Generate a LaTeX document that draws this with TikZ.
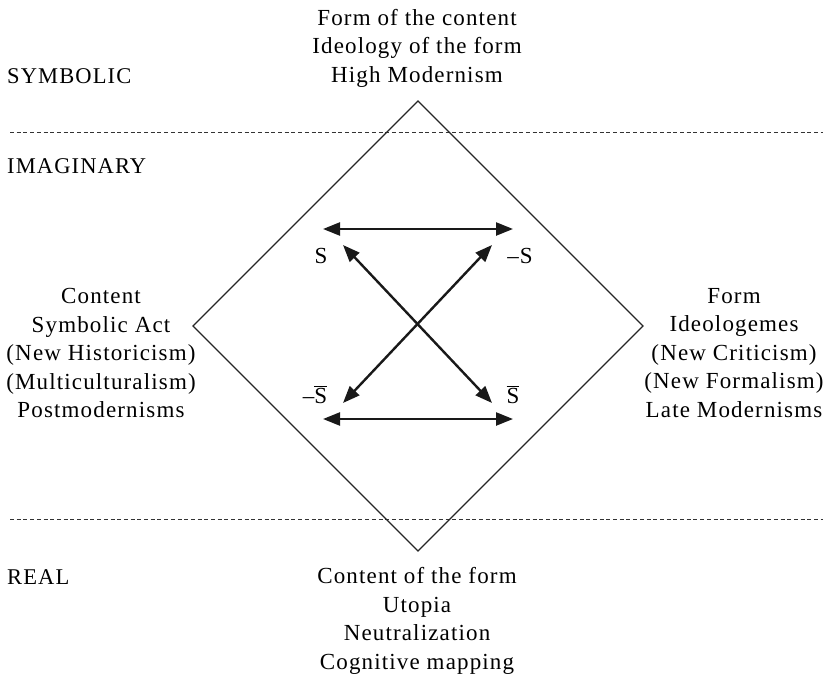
\documentclass[tikz,border=0pt]{standalone}
\usepackage{fontspec}
\setmainfont{Liberation Serif}[LetterSpace=5]
\usetikzlibrary{arrows.meta}
\begin{document}
\begin{tikzpicture}[x=1pt,y=-1pt,
  label/.style={font=\fontsize{23}{28.5}\selectfont, align=center, inner sep=0pt},
  level/.style={font=\fontsize{22.5}{24}\selectfont, anchor=west, inner sep=0pt},
  corner/.style={font=\fontsize{23}{24}\selectfont, inner sep=0pt, anchor=base},
  divider/.style={line width=0.8pt, dash pattern=on 4pt off 2.7pt, black!80},
  square/.style={line width=1.1pt, black!85},
  opp/.style={line width=2.4pt, black!90,
    {Triangle[length=17pt,width=13pt]}-{Triangle[length=17pt,width=13pt]}}
]
\useasboundingbox (0,0) rectangle (827,680);

% levels of the semiotic square
\node[level] (sym) at (7,76) {SYMBOLIC};
\node[level] (ima) at (7,166) {IMAGINARY};
\node[level] (rea) at (7,577) {REAL};

\coordinate (dl1) at (10,132);
\coordinate (dr1) at (823,132);
\coordinate (dl2) at (10,519);
\coordinate (dr2) at (823,519);
\draw[divider] (dl1) -- (dr1);
\draw[divider] (dl2) -- (dr2);

% outer diamond
\coordinate (top) at (418,101);
\coordinate (rgt) at (643,326);
\coordinate (bot) at (418,551);
\coordinate (lft) at (193,326);
\draw[square] (top) -- (rgt) -- (bot) -- (lft) -- cycle;

% corner texts
\node[label] (ttop) at (417,48) {Form of the content\\Ideology of the form\\High Modernism};
\node[label] (tlft) at (101,353) {Content\\Symbolic Act\\(New Historicism)\\(Multiculturalism)\\Postmodernisms};
\node[label] (trgt) at (734,353) {Form\\Ideologemes\\(New Criticism)\\(New Formalism)\\Late Modernisms};
\node[label] (tbot) at (417,621) {Content of the form\\Utopia\\Neutralization\\Cognitive mapping};

% the four terms
\node[corner] (s) at (321,263) {S};
\node[corner] (ns) at (520,263) {--S};
\node[corner] (nsb) at (315,403) {--$\overline{\mbox{S}}$};
\node[corner] (sb) at (513,403) {$\overline{\mbox{S}}$};

% relations between the terms
\coordinate (h1a) at (323,229);
\coordinate (h1b) at (513,229);
\coordinate (h2a) at (323,419);
\coordinate (h2b) at (513,419);
\coordinate (d1a) at (343,245);
\coordinate (d1b) at (492,403);
\coordinate (d2a) at (492,245);
\coordinate (d2b) at (343,403);
\draw[opp] (h1a) -- (h1b);
\draw[opp] (h2a) -- (h2b);
\draw[opp] (d1a) -- (d1b);
\draw[opp] (d2a) -- (d2b);
\end{tikzpicture}
\end{document}
